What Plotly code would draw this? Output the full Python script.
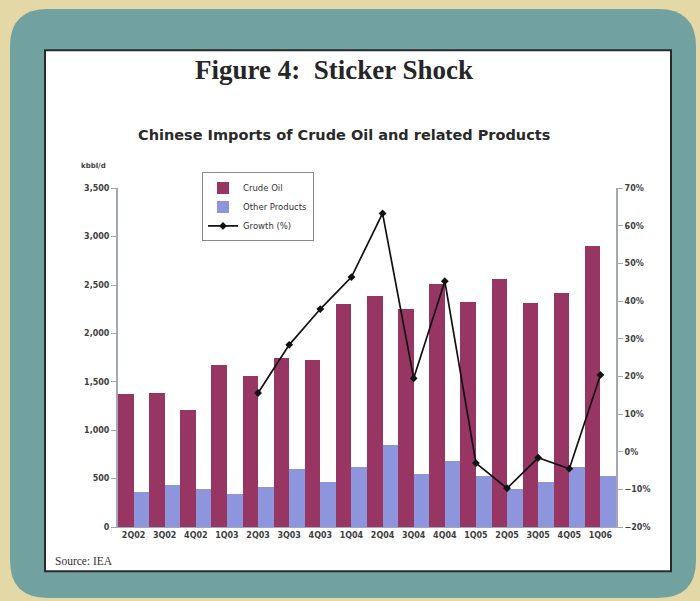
import plotly.graph_objects as go
from plotly.subplots import make_subplots

# Quarterly series (thousand barrels per day, growth in %)
quarters = ["2Q02", "3Q02", "4Q02", "1Q03", "2Q03", "3Q03", "4Q03", "1Q04",
            "2Q04", "3Q04", "4Q04", "1Q05", "2Q05", "3Q05", "4Q05", "1Q06"]
crude_oil = [1370, 1378, 1204, 1668, 1562, 1740, 1726, 2306,
             2385, 2249, 2511, 2323, 2562, 2313, 2416, 2897]
other_products = [362, 437, 386, 335, 413, 600, 464, 617,
                  846, 550, 676, 522, 386, 464, 617, 522]
growth_pct = [None, None, None, None, 15.6, 28.4, 37.9, 46.4,
              63.3, 19.5, 45.3, -3.0, -9.7, -1.6, -4.5, 20.4]

left_ticks = [0, 500, 1000, 1500, 2000, 2500, 3000, 3500]
right_ticks = [-20, -10, 0, 10, 20, 30, 40, 50, 60, 70]

W, H = 700, 601


def px(x):
    return x / W


def py(y):
    return 1 - y / H


def rounded_rect(x0, y0, x1, y1, r):
    rx, ry = r / W, r / H
    X0, X1 = px(x0), px(x1)
    Y0, Y1 = py(y0), py(y1)
    return (f"M {X0 + rx},{Y0} L {X1 - rx},{Y0} Q {X1},{Y0} {X1},{Y0 - ry} "
            f"L {X1},{Y1 + ry} Q {X1},{Y1} {X1 - rx},{Y1} "
            f"L {X0 + rx},{Y1} Q {X0},{Y1} {X0},{Y1 + ry} "
            f"L {X0},{Y0 - ry} Q {X0},{Y0} {X0 + rx},{Y0} Z")


CRUDE = "#973563"
OTHER = "#8d95dd"
AXIS = "#a3a7b8"
TICKFONT = dict(family="DejaVu Sans", size=8, color="#404040", weight="bold")

fig = make_subplots(specs=[[{"secondary_y": True}]])

fig.add_trace(go.Bar(x=quarters, y=crude_oil, name="Crude Oil",
                     marker=dict(color=CRUDE, line=dict(width=0))),
              secondary_y=False)
fig.add_trace(go.Bar(x=quarters, y=other_products, name="Other Products",
                     marker=dict(color=OTHER, line=dict(width=0))),
              secondary_y=False)
fig.add_trace(go.Scatter(x=quarters, y=[None if g is None else g / 100 for g in growth_pct],
                         name="Growth (%)", mode="lines+markers",
                         line=dict(color="#111111", width=1.7),
                         marker=dict(symbol="diamond", size=6, color="#111111")),
              secondary_y=True)

shapes = [
    dict(type="path", xref="paper", yref="paper", layer="below",
         path=rounded_rect(10, 5, 696, 603, 38),
         fillcolor="#72a2a0", line=dict(width=0)),
    dict(type="rect", xref="paper", yref="paper", layer="below",
         x0=px(45), x1=px(671), y0=py(576), y1=py(47),
         fillcolor="white", line=dict(color="#2a2a2a", width=2)),
]

annotations = [
    dict(text="<b>Figure 4:\u00a0 Sticker Shock</b>", x=px(334), y=py(67),
         xref="paper", yref="paper", showarrow=False, xanchor="center", yanchor="middle",
         font=dict(family="Liberation Serif", size=27, color="#262626")),
    dict(text="<b>Chinese Imports of Crude Oil and related Products</b>", x=px(344), y=py(133),
         xref="paper", yref="paper", showarrow=False, xanchor="center", yanchor="middle",
         font=dict(family="DejaVu Sans", size=14.5, color="#2a2a2a")),
    dict(text="<b>kbbl/d</b>", x=px(79), y=py(164),
         xref="paper", yref="paper", showarrow=False, xanchor="left", yanchor="middle",
         font=dict(family="DejaVu Sans", size=7, color="#404040")),
    dict(text="Source: IEA", x=px(53), y=py(565),
         xref="paper", yref="paper", showarrow=False, xanchor="left", yanchor="middle",
         font=dict(family="Liberation Serif", size=11.5, color="#333333")),
]

fig.update_layout(
    width=W, height=H,
    margin=dict(l=0, r=0, t=0, b=0),
    paper_bgcolor="#e4d8a6",
    plot_bgcolor="rgba(0,0,0,0)",
    barmode="group", bargap=0, bargroupgap=0,
    shapes=shapes, annotations=annotations,
    showlegend=True,
    legend=dict(x=px(202), y=py(171), xanchor="left", yanchor="top",
                bgcolor="white", bordercolor="#8a8a8a", borderwidth=1,
                font=dict(family="DejaVu Sans", size=8.5, color="#333333"),
                itemwidth=30, tracegroupgap=0),
    xaxis=dict(domain=[px(118), px(616)], range=[-0.5, 15.5], autorange=False,
               showgrid=False, zeroline=False,
               showline=True, linecolor=AXIS, linewidth=1,
               tickangle=0, tickfont=TICKFONT, ticks="", fixedrange=True),
    yaxis=dict(domain=[py(531), py(187)], range=[0, 3500], tickvals=left_ticks,
               tickformat=",", showgrid=False, zeroline=False,
               showline=True, linecolor=AXIS, linewidth=2,
               ticks="outside", ticklen=5, tickcolor=AXIS, tickfont=TICKFONT),
    yaxis2=dict(range=[-0.2, 0.7], tickvals=[t / 100 for t in right_ticks],
                tickformat=".0%", showgrid=False, zeroline=False,
                showline=True, linecolor=AXIS, linewidth=2,
                ticks="outside", ticklen=5, tickcolor=AXIS, tickfont=TICKFONT),
)

fig.write_html("out.html")
